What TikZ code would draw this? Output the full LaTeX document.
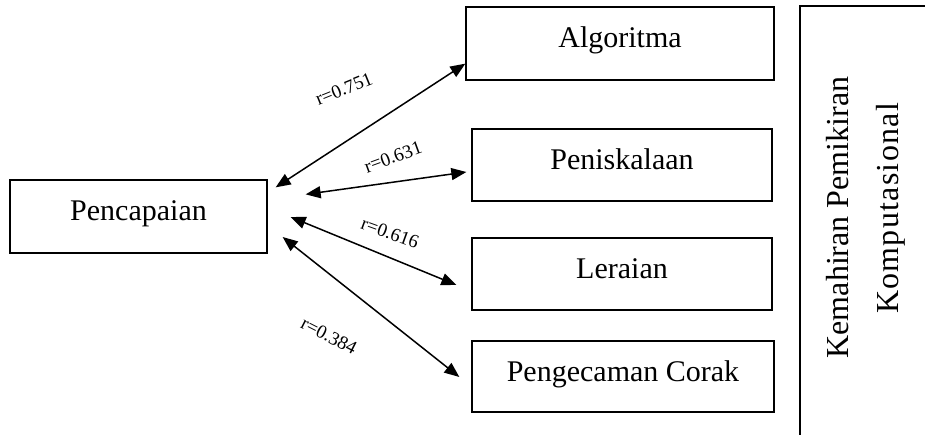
\documentclass[tikz,border=0pt]{standalone}
\usepackage{fontspec}
\setmainfont{Liberation Serif}
\usetikzlibrary{arrows.meta}
\begin{document}
\begin{tikzpicture}[x=1pt,y=-1pt,
  box/.style={draw, line width=1.3pt, inner sep=0pt, text height=22pt, text depth=13pt,
    font=\fontsize{30}{36}\selectfont},
  link/.style={line width=1.5pt,
    {Triangle[length=15pt,width=12pt]}-{Triangle[length=15pt,width=12pt]}},
  coef/.style={font=\fontsize{19}{22}\selectfont, inner sep=0pt},
  side/.style={font=\fontsize{32}{38}\selectfont, rotate=90, anchor=base, inner sep=0pt}]
\useasboundingbox (0,0) rectangle (925,435);

% outcome and the four skill components
\node[box, minimum width=257pt, minimum height=73pt] (p) at (138.5,216.5) {Pencapaian};
\node[box, minimum width=308pt, minimum height=73pt] (a) at (620,43.5) {Algoritma};
\node[box, minimum width=300pt, minimum height=72pt] (b) at (622,165) {Peniskalaan};
\node[box, minimum width=300pt, minimum height=72pt] (c) at (622,274) {Leraian};
\node[box, minimum width=302pt, minimum height=71pt] (d) at (623,376.5) {Pengecaman Corak};

% correlations
\draw[link] ([shift={(8,8)}]p.north east) -- ([shift={(0,-17)}]a.south west);
\draw[link] ([shift={(38,15)}]p.north east) -- ([shift={(-5,7)}]b.west);
\draw[link] ([shift={(23,0.5)}]p.east) -- ([shift={(-15,11)}]c.west);
\draw[link] ([shift={(15,20.5)}]p.east) -- ([shift={(-12,0.5)}]d.west);

\node[coef, rotate=22] (r1) at (344,89) {r=0.751};
\node[coef, rotate=20] (r2) at (393,157) {r=0.631};
\node[coef, rotate=-20] (r3) at (390,233) {r=0.616};
\node[coef, rotate=-27] (r4) at (329,336) {r=0.384};

% grouping bracket with its caption
\draw[line width=1.3pt] (800,435) -- (800,6) -- (925,6);
\node[side] (k1) at (848,217.5) {Kemahiran Pemikiran};
\node[side] (k2) at (898,208.5) {\addfontfeatures{LetterSpace=4}Komputasional};
\end{tikzpicture}
\end{document}
